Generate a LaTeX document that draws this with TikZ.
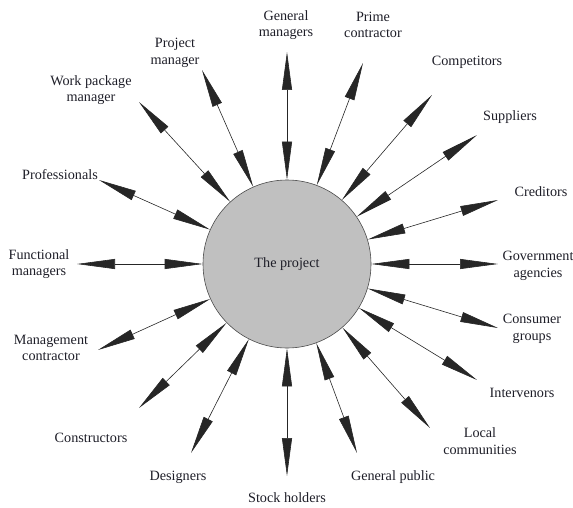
\documentclass[tikz,border=0pt]{standalone}
\usepackage{fontspec}
\setmainfont{Liberation Serif}
\usetikzlibrary{arrows.meta}
\definecolor{discgray}{RGB}{192,192,192}
\definecolor{txtcol}{RGB}{30,30,40}
\begin{document}
\begin{tikzpicture}[x=1pt,y=-1pt,
  lbl/.style={align=center,font=\fontsize{14.2}{16.5}\selectfont,text=txtcol,inner sep=0pt},
  link/.style={draw=black!85,line width=0.6pt,
    {Triangle[length=38pt,width=10pt]}-{Triangle[length=38pt,width=10pt]}},
  disc/.style={circle,draw=black!70,line width=0.6pt,fill=discgray,minimum size=168pt,inner sep=0pt}]
\useasboundingbox (0,0) rectangle (573,508);
\node[disc,lbl] (project) at (287,264) {The project};
% outer arrow tips
\coordinate (tgm) at (287,52);
\coordinate (tpc) at (363,63);
\coordinate (tcomp) at (432,95);
\coordinate (tsupp) at (477,135);
\coordinate (tcred) at (498,200);
\coordinate (tgov) at (498,264);
\coordinate (tcons) at (498,328);
\coordinate (tint) at (477,380);
\coordinate (tloc) at (430,428);
\coordinate (tgp) at (357,453);
\coordinate (tsh) at (287,476);
\coordinate (tdes) at (191,453);
\coordinate (tcon) at (139,408);
\coordinate (tmc) at (98,350);
\coordinate (tfm) at (77,264);
\coordinate (tprof) at (99,180);
\coordinate (twpm) at (139,102);
\coordinate (tpm) at (202,70);
\foreach \t in {tgm,tpc,tcomp,tsupp,tcred,tgov,tcons,tint,tloc,tgp,tsh,tdes,tcon,tmc,tfm,tprof,twpm,tpm}
  \draw[link] (project) -- (\t);
% labels
\node[lbl] (lgm) at (286,25) {General\\managers};
\node[lbl] (lpc) at (373,25) {Prime\\contractor};
\node[lbl] (lcomp) at (467,62) {Competitors};
\node[lbl] (lsupp) at (510,117) {Suppliers};
\node[lbl] (lcred) at (541,192) {Creditors};
\node[lbl] (lgov) at (538,266) {Government\\agencies};
\node[lbl] (lcons) at (532,329) {Consumer\\groups};
\node[lbl] (lint) at (522,393) {Intervenors};
\node[lbl] (lloc) at (480,441) {Local\\communities};
\node[lbl] (lgp) at (393,477) {General public};
\node[lbl] (lsh) at (287,498) {Stock holders};
\node[lbl] (ldes) at (178,477) {Designers};
\node[lbl] (lcon) at (91,438) {Constructors};
\node[lbl] (lmc) at (51,348) {Management\\contractor};
\node[lbl] (lfm) at (39,264) {Functional\\managers};
\node[lbl] (lprof) at (60,175) {Professionals};
\node[lbl] (lwpm) at (91,90) {Work package\\manager};
\node[lbl] (lpm) at (175,53) {Project\\manager};
\end{tikzpicture}
\end{document}
